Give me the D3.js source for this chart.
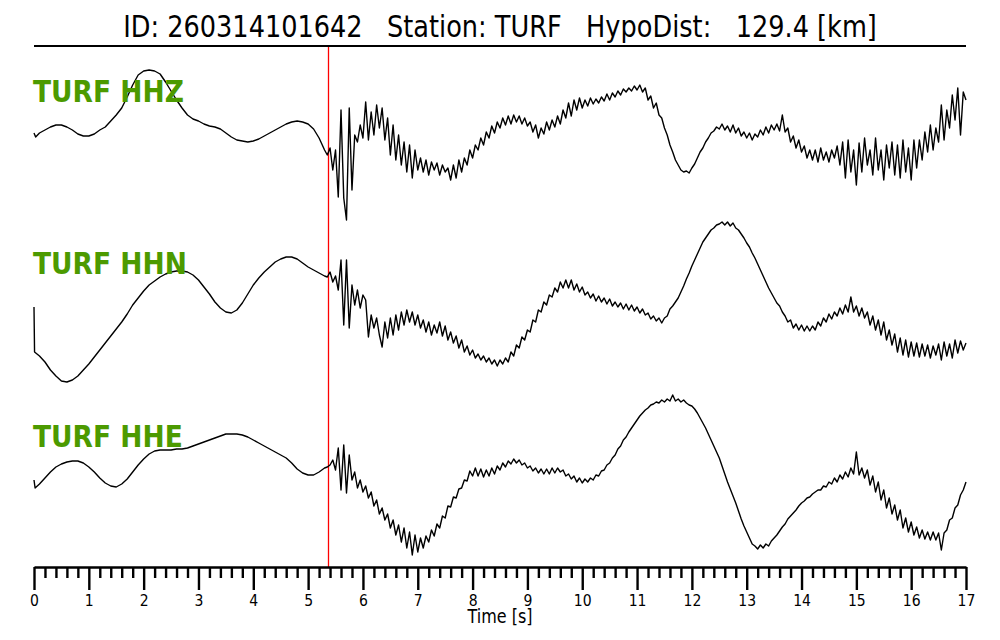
<!DOCTYPE html>
<html><head><meta charset="utf-8">
<script src="https://cdn.jsdelivr.net/npm/d3@7"></script>
<style>body{margin:0;background:#fff}svg{display:block}text{font-family:"DejaVu Sans",sans-serif}</style>
</head><body>
<svg id="chart" width="1000" height="640"></svg>
<script>
// ---------------- data ----------------
const titleText = "ID: 260314101642   Station: TURF   HypoDist:   129.4 [km]";
const channels = ["TURF HHZ", "TURF HHN", "TURF HHE"];
const xLabel = "Time [s]";
const timeDomain = [0, 17];
const majorTicks = [0,1,2,3,4,5,6,7,8,9,10,11,12,13,14,15,16,17];
const minorStep = 0.2;
const pickTime = 5.355;          // P pick (red line), s
const postStart = 5.35, postEnd = 17.0; // evenly sampled part after the pick

// pre-event part: [time s, amplitude]
const hhzPre = [[0,7],[0.03,3],[0.1,7],[0.2,10],[0.3,13],[0.4,15],[0.5,15],[0.6,13],[0.7,10],[0.8,6],[0.9,4],[1.0,4],[1.1,6],[1.2,10],[1.3,13],[1.4,19],[1.5,25],[1.6,32],[1.7,43],[1.8,55],[1.9,65],[2.0,69],[2.1,70],[2.2,69],[2.3,66],[2.4,58],[2.5,49],[2.6,40],[2.7,32],[2.8,25],[2.9,21],[3.0,19],[3.1,16],[3.2,14],[3.3,13],[3.4,11],[3.5,7],[3.6,3],[3.7,0],[3.8,-1],[3.9,-2],[4.0,-1],[4.1,1],[4.2,4],[4.3,7],[4.4,10],[4.5,13],[4.6,16],[4.7,18],[4.8,19],[4.9,18],[5.0,16],[5.1,11],[5.2,2],[5.3,-10]];
const hhnPre = [[0,3],[0.01,-42],[0.1,-46],[0.2,-52],[0.3,-60],[0.4,-66],[0.5,-71],[0.6,-72],[0.7,-70],[0.8,-66],[0.9,-60],[1.0,-54],[1.1,-47],[1.2,-40],[1.3,-33],[1.4,-26],[1.5,-19],[1.6,-12],[1.7,-4],[1.8,5],[1.9,12],[2.0,19],[2.1,25],[2.2,29],[2.3,33],[2.4,36],[2.5,38],[2.6,39],[2.7,39],[2.8,38],[2.9,35],[3.0,30],[3.1,23],[3.2,16],[3.3,8],[3.4,2],[3.5,-2],[3.6,-3],[3.7,0],[3.8,7],[3.9,16],[4.0,25],[4.1,32],[4.2,38],[4.3,43],[4.4,48],[4.5,51],[4.6,53],[4.7,53],[4.8,51],[4.9,47],[5.0,43],[5.1,40],[5.2,37],[5.3,34]];
const hhePre = [[0,0],[0.02,-8],[0.1,-4],[0.2,2],[0.3,8],[0.4,13],[0.5,16],[0.6,18],[0.7,19],[0.8,19],[0.9,17],[1.0,13],[1.1,8],[1.2,2],[1.3,-3],[1.4,-6],[1.5,-7],[1.6,-4],[1.7,1],[1.8,8],[1.9,15],[2.0,21],[2.1,26],[2.2,29],[2.3,30],[2.4,30],[2.5,30],[2.6,31],[2.7,31],[2.8,32],[2.9,34],[3.0,36],[3.1,38],[3.2,40],[3.3,42],[3.4,44],[3.5,46],[3.6,46],[3.7,46],[3.8,45],[3.9,43],[4.0,40],[4.1,37],[4.2,34],[4.3,31],[4.4,28],[4.5,25],[4.6,22],[4.7,17],[4.8,11],[4.9,7],[5.0,5],[5.1,5],[5.2,8],[5.3,12]];

// post-pick part: amplitudes every 0.05 s from 5.35 s to 17.00 s
const hhzPost = [
-15,-8,-30,-10,-57,30,-58,-80,32,-50,
5,-2,15,2,38,0,28,5,35,12,
32,0,22,-15,15,-20,5,-25,-2,-32,
-5,-38,-10,-30,-18,-32,-20,-35,-22,-30,
-23,-35,-25,-32,-28,-40,-25,-38,-20,-32,
-18,-25,-10,-18,-5,-10,2,-5,8,2,
14,7,18,12,22,15,24,16,25,18,
24,16,22,14,18,8,15,2,12,6,
18,10,20,13,24,16,30,22,37,24,
40,30,42,32,40,34,42,36,41,37,
43,39,46,40,47,43,49,45,51,48,
52,49,54,50,55,48,52,40,44,32,
37,25,22,12,5,-5,-12,-20,-25,-30,
-32,-31,-33,-28,-24,-18,-12,-8,-2,2,
7,9,13,11,16,10,14,8,15,7,
12,4,8,2,7,0,6,3,10,5,
13,7,15,10,16,9,25,8,12,-2,
4,-8,0,-12,-6,-18,-10,-20,-10,-22,
-8,-20,-12,-22,-10,-18,-6,-25,-2,-38,
0,-32,-10,-45,-3,-32,2,-25,-10,-35,
2,-30,-10,-40,-5,-28,-2,-35,-5,-38,
0,-32,-8,-40,0,-28,0,-20,8,-12,
15,-10,12,-2,35,0,30,12,45,20,
52,5,48,40];
const hhnPost = [
33,38,28,34,20,50,-15,50,-18,25,
5,20,2,15,10,-27,-5,-18,-8,-25,
-37,-12,-28,-8,-25,-5,-20,-2,-15,0,
-12,-2,-15,-5,-18,-10,-22,-12,-25,-15,
-23,-12,-26,-16,-30,-22,-33,-26,-38,-30,
-42,-36,-45,-40,-48,-44,-50,-46,-52,-48,
-54,-50,-56,-50,-54,-48,-52,-42,-46,-35,
-38,-27,-30,-20,-22,-10,-12,0,-2,8,
5,15,13,22,18,28,22,30,22,30,
20,26,18,23,15,18,12,16,9,14,
8,12,6,11,4,8,3,7,1,6,
0,5,-1,3,-3,1,-5,-3,-9,-6,
-11,-8,-13,-8,-6,1,4,8,12,18,
24,31,37,44,50,56,62,68,72,76,
80,82,85,86,88,85,88,84,87,82,
80,76,72,67,63,57,52,46,40,34,
28,22,17,12,7,4,-2,-6,-12,-10,
-18,-14,-20,-15,-21,-16,-21,-16,-20,-12,
-16,-8,-12,-4,-9,-2,-6,2,-4,5,
-2,13,-2,4,-6,2,-8,-2,-15,-6,
-20,-10,-25,-12,-30,-20,-35,-24,-42,-28,
-45,-30,-47,-32,-46,-33,-47,-34,-46,-35,
-48,-36,-45,-34,-50,-32,-46,-34,-48,-30,
-43,-31,-40,-33];
const hhePost = [
13,15,20,10,32,-10,35,-13,25,0,
8,-8,0,-12,-6,-18,-12,-26,-20,-34,
-28,-40,-34,-48,-40,-55,-45,-62,-48,-68,
-52,-75,-55,-72,-58,-68,-56,-62,-50,-56,
-44,-48,-36,-38,-26,-27,-17,-18,-9,-8,
0,-1,9,4,12,4,11,3,10,4,
12,6,14,10,17,13,19,16,21,17,
20,15,17,12,14,9,12,7,11,6,
11,6,12,7,12,8,10,4,6,1,
4,-2,2,-3,1,-2,2,0,5,4,
9,10,15,17,22,25,31,34,40,43,
48,52,56,60,64,67,70,72,75,76,
78,77,80,78,81,79,85,79,81,78,
80,77,75,74,71,67,62,57,52,46,
40,34,28,22,14,6,-2,-9,-16,-23,
-31,-39,-46,-52,-58,-64,-66,-69,-65,-68,
-64,-66,-61,-58,-55,-51,-47,-44,-39,-36,
-33,-30,-26,-23,-21,-18,-17,-14,-12,-10,
-10,-6,-7,-2,-4,2,-2,5,1,8,
3,12,6,28,5,12,2,10,-5,4,
-12,-2,-20,-10,-28,-18,-34,-25,-40,-30,
-48,-38,-52,-42,-55,-47,-58,-50,-59,-52,
-60,-52,-60,-53,-70,-53,-50,-40,-38,-28,
-25,-15,-10,-2];

// ---------------- drawing ----------------
(function draw() {
const svg = d3.select("#chart");
const mLeft = 34, mRight = 966, mTop = 46, axisY = 567;
const stretch = 1.17;
const labelGreen = "#4c9a00";

const x = d3.scaleLinear().domain(timeDomain).range([mLeft, mRight]);
const rowCenter = d3.scalePoint().domain(channels).range([140, 480]);
const amp = d3.scaleLinear().domain([-100, 100]).range([100, -100]);

function buildSeries(pre, post) {
  const n = post.length;
  const step = (postEnd - postStart) / (n - 1);
  return pre.map(d => ({t: d[0], v: d[1]}))
    .concat(post.map((v, i) => ({t: postStart + i * step, v})));
}
const traces = [
  {name: channels[0], pts: buildSeries(hhzPre, hhzPost)},
  {name: channels[1], pts: buildSeries(hhnPre, hhnPost)},
  {name: channels[2], pts: buildSeries(hhePre, hhePost)}
];

// title
svg.append("text")
  .attr("transform", `translate(${(mLeft + mRight) / 2},37) scale(1,${stretch})`)
  .attr("text-anchor", "middle")
  .style("white-space", "pre")
  .attr("font-size", 25.6)
  .attr("fill", "#000")
  .text(titleText);
svg.append("line").attr("x1", mLeft).attr("x2", mRight).attr("y1", mTop).attr("y2", mTop)
  .attr("stroke", "#000").attr("stroke-width", 2);

// pick line
const px = Math.round(x(pickTime)) + 0.5;
svg.append("line")
  .attr("x1", px).attr("x2", px)
  .attr("y1", mTop + 1).attr("y2", axisY)
  .attr("stroke", "#ff0000").attr("stroke-width", 1.3);

// traces
traces.forEach(tr => {
  const c = rowCenter(tr.name);
  const line = d3.line().x(d => x(d.t)).y(d => c + amp(d.v));
  svg.append("path").datum(tr.pts).attr("d", line)
    .attr("fill", "none").attr("stroke", "#000").attr("stroke-width", 1.4)
    .attr("stroke-linejoin", "round");
});

// channel labels
const labelBase = {"TURF HHZ": 101.7, "TURF HHN": 274, "TURF HHE": 447.3};
channels.forEach(ch => {
  svg.append("text")
    .attr("transform", `translate(${mLeft - 1},${labelBase[ch]}) scale(1,${stretch})`)
    .attr("font-size", 26.5).attr("font-weight", "bold")
    .attr("fill", labelGreen)
    .text(ch);
});

// axis: minor ticks
const minorVals = d3.range(0, 17 + 1e-9, minorStep).filter(v => Math.abs(v - Math.round(v)) > 1e-6);
const gMinor = svg.append("g").attr("transform", `translate(0,${axisY})`)
  .call(d3.axisBottom(x).tickValues(minorVals).tickSize(11).tickSizeOuter(0).tickFormat(""));
gMinor.select(".domain").attr("stroke-width", 2.4);
gMinor.selectAll(".tick line").attr("stroke-width", 2.4);

const gMajor = svg.append("g").attr("transform", `translate(0,${axisY})`)
  .call(d3.axisBottom(x).tickValues(majorTicks).tickSize(23).tickSizeOuter(0).tickFormat(d3.format("d")));
gMajor.select(".domain").remove();
gMajor.selectAll(".tick line").attr("stroke-width", 2.4);
gMajor.selectAll(".tick text")
  .attr("y", null).attr("dy", null)
  .attr("transform", `translate(0,39) scale(1,${stretch})`)
  .attr("font-size", 14).attr("font-family", "DejaVu Sans").attr("fill", "#000");

svg.append("text")
  .attr("transform", `translate(${(mLeft + mRight) / 2},623) scale(1,${stretch})`)
  .attr("text-anchor", "middle").attr("font-size", 16).attr("fill", "#000")
  .text(xLabel);
})();
</script>
</body></html>
